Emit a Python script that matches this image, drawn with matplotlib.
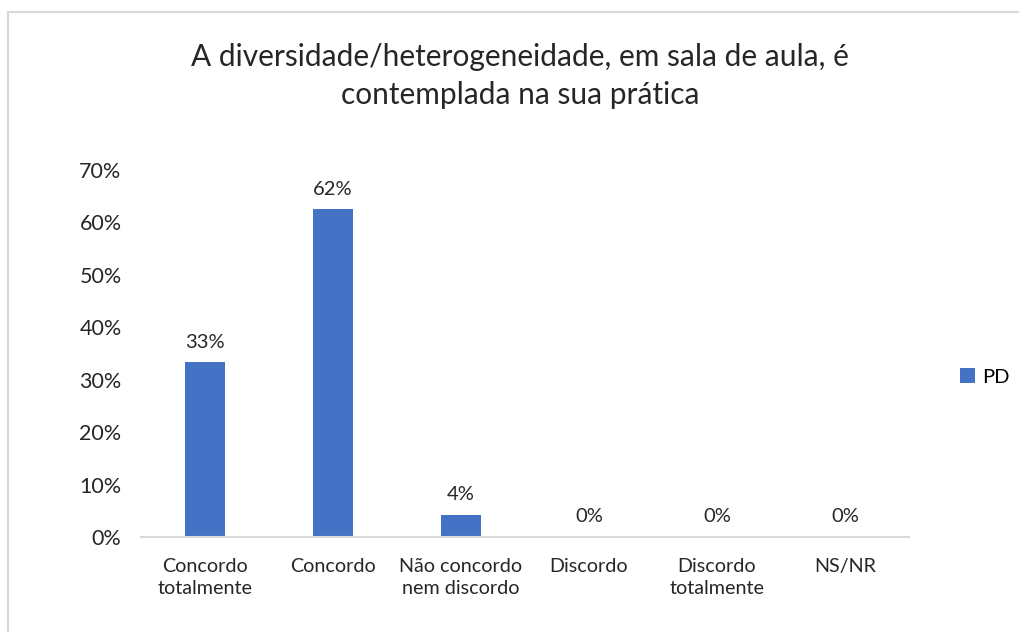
import numpy as np
from matplotlib import pyplot as plt
from matplotlib.patches import Rectangle

categories = ["Concordo\ntotalmente", "Concordo", "Não concordo\nnem discordo",
              "Discordo", "Discordo\ntotalmente", "NS/NR"]
values = [33.3, 62.5, 4.2, 0.0, 0.0, 0.0]
labels = ["33%", "62%", "4%", "0%", "0%", "0%"]
yticks = [0, 10, 20, 30, 40, 50, 60, 70]

plt.rcParams['font.family'] = ['Lato', 'DejaVu Sans']
W, H = 1019, 632
fig = plt.figure(figsize=(W / 100, H / 100), dpi=100)
ax = fig.add_axes([141 / W, 1 - 537 / H, (909 - 141) / W, (537 - 170) / H])

x = np.arange(len(categories))
bars = ax.bar(x, values, width=0.32, color='#4472C4', label='PD')
for b, lab in zip(bars, labels):
    ax.text(b.get_x() + b.get_width() / 2, b.get_height() + 2.2, lab,
            ha='center', va='bottom', fontsize=14.5, color='#262626')

ax.set_xlim(-0.5, len(categories) - 0.5)
ax.set_ylim(0, 70)
ax.set_yticks(yticks)
ax.set_yticklabels([f"{t}%" for t in yticks], fontsize=15.5, color='#262626')
ax.set_xticks(x)
ax.set_xticklabels(categories, fontsize=14.2, color='#262626', linespacing=1.35)
ax.tick_params(length=0)
ax.tick_params(axis='y', pad=14)
ax.tick_params(axis='x', pad=15)
for s in ['top', 'right', 'left']:
    ax.spines[s].set_visible(False)
ax.spines['bottom'].set_color('#D9D9D9')
ax.spines['bottom'].set_linewidth(1.5)

fig.text(520 / W, 1 - 76 / H,
         "A diversidade/heterogeneidade, em sala de aula, é\ncontemplada na sua prática",
         ha='center', va='center', fontsize=21.5, color='#262626', linespacing=1.4)

ax.legend(loc='center left', bbox_to_anchor=(960 / W, 1 - 377 / H),
          bbox_transform=fig.transFigure, frameon=False, fontsize=14.5,
          borderpad=0, borderaxespad=0,
          handlelength=0.75, handleheight=0.75, handletextpad=0.35)

fig.patches.append(Rectangle((7.5 / W, -0.1), 1.2, 1 - 11.5 / H + 0.1,
                             transform=fig.transFigure, fill=False,
                             edgecolor='#D9D9D9', linewidth=1.5))

plt.savefig('out.png', dpi=100)
